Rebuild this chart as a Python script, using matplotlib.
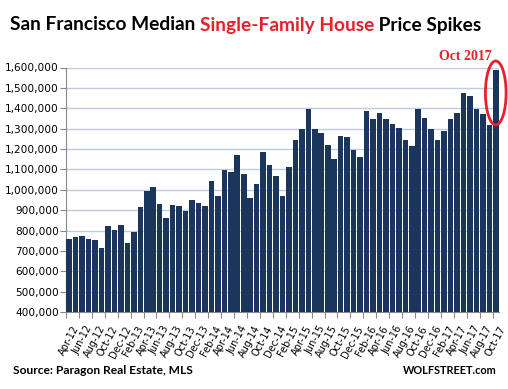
import numpy as np
import matplotlib
matplotlib.use("Agg")
import matplotlib.pyplot as plt
from matplotlib.patches import Ellipse
from matplotlib.ticker import FuncFormatter, FixedLocator, NullFormatter
from matplotlib.transforms import offset_copy

# monthly median price, Apr-2012 .. Oct-2017
months = []
for year in range(2012, 2018):
    for m in ["Jan", "Feb", "Mar", "Apr", "May", "Jun", "Jul", "Aug", "Sep", "Oct", "Nov", "Dec"]:
        months.append(f"{m}-{str(year)[2:]}")
months = months[3:3 + 67]

prices = [
    758000, 769000, 775000, 759000, 754000, 715000, 823000, 803000, 828000,
    740000, 793000, 916000, 994000, 1014000, 931000, 862000, 926000, 921000,
    896000, 950000, 936000, 921000, 1043000, 970000, 1097000, 1087000, 1171000,
    1078000, 960000, 1029000, 1185000, 1122000, 1068000, 970000, 1112000,
    1244000, 1298000, 1396000, 1298000, 1278000, 1220000, 1151000, 1264000,
    1259000, 1196000, 1161000, 1387000, 1348000, 1377000, 1348000, 1323000,
    1304000, 1245000, 1215000, 1397000, 1353000, 1299000, 1245000, 1289000,
    1348000, 1377000, 1476000, 1461000, 1397000, 1373000, 1318000, 1589000,
]

title_parts = [("San Francisco Median ", "black"),
               ("Single-Family House", "#e8202a"),
               (" Price Spikes", "black")]

W, H = 508, 389
fig = plt.figure(figsize=(W / 100, H / 100), dpi=100)
ax = fig.add_axes([66 / W, 1 - 312 / H, (499 - 66) / W, (312 - 67.5) / H])

x = np.arange(len(prices))
ax.bar(x, prices, width=0.86, color="#1b365d", zorder=3)

ax.set_ylim(400000, 1600000)
ax.set_xlim(-0.5, len(prices) - 0.5)
ax.set_yticks(np.arange(400000, 1600001, 100000))
ax.yaxis.set_major_formatter(FuncFormatter(lambda v, p: f"{int(v):,}"))
ax.grid(axis="y", color="#bccbe0", linewidth=1.0, zorder=0)

# tick marks between every second month, labels drawn by hand
ax.xaxis.set_major_locator(FixedLocator(np.arange(-0.5, len(prices), 2)))
ax.xaxis.set_major_formatter(NullFormatter())
ax.tick_params(axis="x", length=4, color="#888888", direction="out")
ax.tick_params(axis="y", length=4, color="#888888", labelsize=7.6, pad=1)
lab_tr = offset_copy(ax.get_xaxis_transform(), fig=fig, x=3, y=-12, units="dots")
for i in x[::2]:
    ax.text(i, 0, months[i], transform=lab_tr, rotation=62, ha="right", va="top",
            rotation_mode="anchor", fontsize=7, clip_on=False)

for s in ["top", "right"]:
    ax.spines[s].set_visible(False)
ax.spines["left"].set_color("#888888")
ax.spines["bottom"].set_color("#888888")

# highlight last month
ax.add_patch(Ellipse((len(prices) - 1, 1475000), 3.2, 314000, fill=False,
                     edgecolor="#e8202a", linewidth=2, clip_on=False, zorder=5))
fig.text(465 / W, 1 - 57 / H, "Oct 2017", color="#e8202a", fontsize=10,
         fontweight="bold", family="Liberation Serif", ha="center", va="center")

fig.canvas.draw()
r = fig.canvas.get_renderer()


def fit_text(x0, y, s, width, **kw):
    # scale the font so the text spans the given pixel width
    t = fig.text(x0 / W, 1 - y / H, s, fontsize=10, **kw)
    w = t.get_window_extent(renderer=r).width
    t.set_fontsize(10 * width / w)
    return t


# title in two colours, sized to span 10..483 px
probe = fig.text(0, 0, "".join(p[0] for p in title_parts), fontsize=10,
                 fontweight="bold", family="Lato")
tsize = 10 * 473 / probe.get_window_extent(renderer=r).width
probe.remove()
xpos = 10 / W
for txt, col in title_parts:
    t = fig.text(xpos, 1 - 25 / H, txt, color=col, fontsize=tsize,
                 fontweight="bold", family="Lato", va="center", ha="left")
    xpos += t.get_window_extent(renderer=r).width / W

fit_text(13, 371, "Source: Paragon Real Estate, MLS", 180,
         fontweight="bold", family="Lato", va="center")
fit_text(403, 371, "WOLFSTREET.com", 94,
         fontweight="bold", family="Lato", va="center")

fig.savefig("out.png", dpi=100)
